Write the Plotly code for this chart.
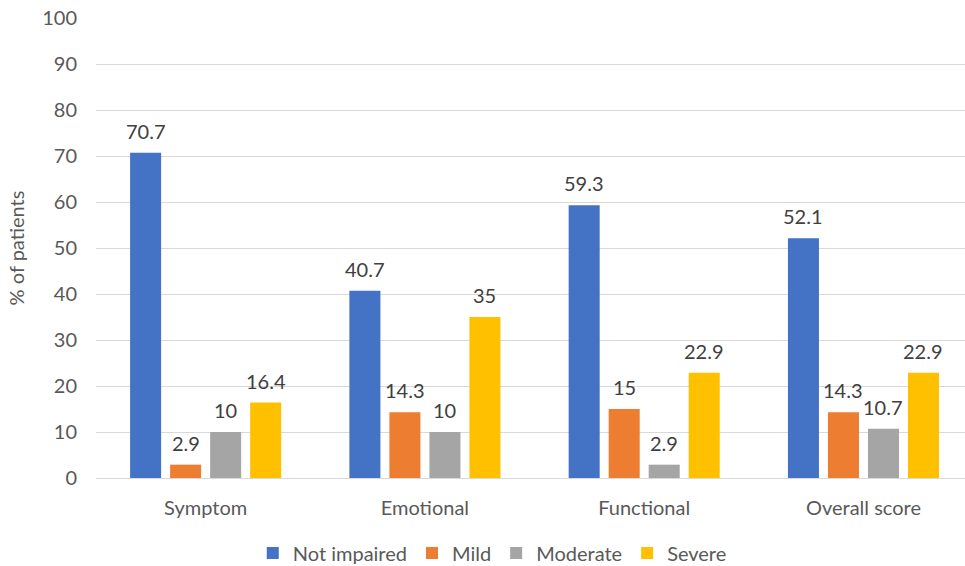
import plotly.graph_objects as go

categories = ["Symptom", "Emotional", "Functional", "Overall score"]
not_impaired = [70.7, 40.7, 59.3, 52.1]
mild = [2.9, 14.3, 15, 14.3]
moderate = [10, 10, 2.9, 10.7]
severe = [16.4, 35, 22.9, 22.9]

series = [
    ("Not impaired", not_impaired, "#4472C4"),
    ("Mild", mild, "#ED7D31"),
    ("Moderate", moderate, "#A5A5A5"),
    ("Severe", severe, "#FFC000"),
]

FONT = "Lato, 'Open Sans', Arial, sans-serif"
FS = 20
SLOT = 40  # pixel pitch of one bar inside a category group

fig = go.Figure()
annotations = []
n = len(series)
for i, (name, vals, color) in enumerate(series):
    fig.add_trace(go.Bar(
        name=name,
        x=categories,
        y=vals,
        marker=dict(color=color, line=dict(width=0)),
    ))
    shift = (i - (n - 1) / 2) * SLOT
    for cat, v in zip(categories, vals):
        annotations.append(dict(
            x=cat, y=v, xref="x", yref="y",
            text=f"{v:g}", showarrow=False,
            xanchor="center", yanchor="bottom",
            xshift=shift, yshift=8,
            font=dict(family=FONT, size=FS, color="#404040"),
        ))

fig.update_layout(
    width=965,
    height=566,
    barmode="group",
    bargap=0.27,
    bargroupgap=0.225,
    plot_bgcolor="white",
    paper_bgcolor="white",
    margin=dict(l=96, r=0, t=18, b=88, autoexpand=False),
    font=dict(family=FONT, size=FS, color="#595959"),
    annotations=annotations,
    legend=dict(
        orientation="h",
        x=0.456, xanchor="center",
        y=-0.163, yanchor="middle",
        font=dict(family=FONT, size=FS, color="#595959"),
        itemwidth=30,
        traceorder="normal",
    ),
    xaxis=dict(
        range=[-0.5, 3.463],
        showgrid=False,
        showline=True,
        linecolor="#d9d9d9",
        linewidth=1,
        ticks="",
        ticklabelstandoff=12,
        tickfont=dict(family=FONT, size=FS, color="#595959"),
    ),
    yaxis=dict(
        range=[0, 100],
        dtick=10,
        showgrid=True,
        gridcolor="#d9d9d9",
        gridwidth=1,
        zeroline=False,
        showline=False,
        ticks="",
        ticklabelstandoff=18,
        tickfont=dict(family=FONT, size=FS, color="#595959"),
        title=dict(text="% of patients", font=dict(family=FONT, size=FS, color="#595959"), standoff=12),
    ),
)

fig.write_html("out.html")
